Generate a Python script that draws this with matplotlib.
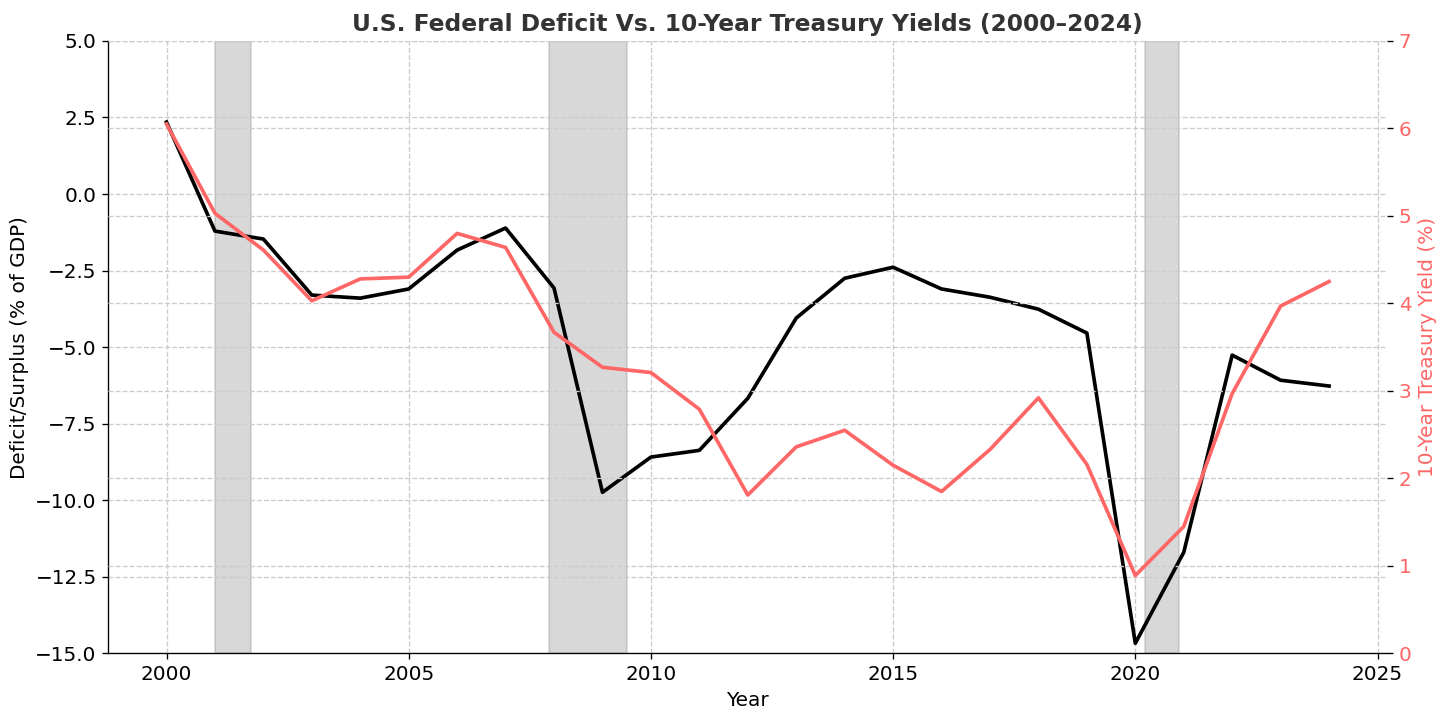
import numpy as np
import matplotlib.pyplot as plt

years = list(range(2000, 2025))

# deficit / surplus as % of GDP
deficit = [2.35, -1.21, -1.47, -3.30, -3.40, -3.10, -1.83, -1.11, -3.07, -9.74,
           -8.59, -8.37, -6.67, -4.05, -2.75, -2.39, -3.10, -3.37, -3.76, -4.54,
           -14.67, -11.70, -5.26, -6.08, -6.27]

# 10-year treasury yield (%)
yields = [6.05, 5.03, 4.61, 4.03, 4.28, 4.30, 4.80, 4.64, 3.67, 3.27,
          3.21, 2.79, 1.81, 2.36, 2.55, 2.15, 1.85, 2.33, 2.92, 2.16,
          0.89, 1.45, 2.97, 3.97, 4.25]

# recession periods (start, end)
recessions = [(2001.0, 2001.75), (2007.9, 2009.5), (2020.2, 2020.9)]

red = '#ff6666'

fig, ax1 = plt.subplots(figsize=(1445 / 120, 718 / 120), dpi=120)
fig.subplots_adjust(left=0.075, right=0.96, top=0.943, bottom=0.09)

for s, e in recessions:
    ax1.axvspan(s, e, color='gray', alpha=0.3)

ax1.plot(years, deficit, color='black', lw=2.2)
ax1.set_ylim(-15, 5)
ax1.set_xlabel('Year', fontsize=12)
ax1.set_ylabel('Deficit/Surplus (% of GDP)', fontsize=12)
ax1.tick_params(labelsize=12)
ax1.grid(True, linestyle='--', color='#cccccc', lw=0.8)
ax1.spines['top'].set_visible(False)
ax1.spines['right'].set_visible(False)

ax2 = ax1.twinx()
ax2.plot(years, yields, color=red, lw=2.2)
ax2.set_ylim(0, 7)
ax2.set_ylabel('10-Year Treasury Yield (%)', color=red, fontsize=12)
ax2.tick_params(axis='y', labelcolor=red, labelsize=12)
ax2.grid(True, linestyle='--', color='#cccccc', lw=0.8)
for sp in ['top', 'right', 'left', 'bottom']:
    ax2.spines[sp].set_visible(False)

ax1.set_title('U.S. Federal Deficit Vs. 10-Year Treasury Yields (2000\u20132024)',
              fontsize=14, fontweight='bold', color='#333333')

fig.savefig('out.png', dpi=120)
